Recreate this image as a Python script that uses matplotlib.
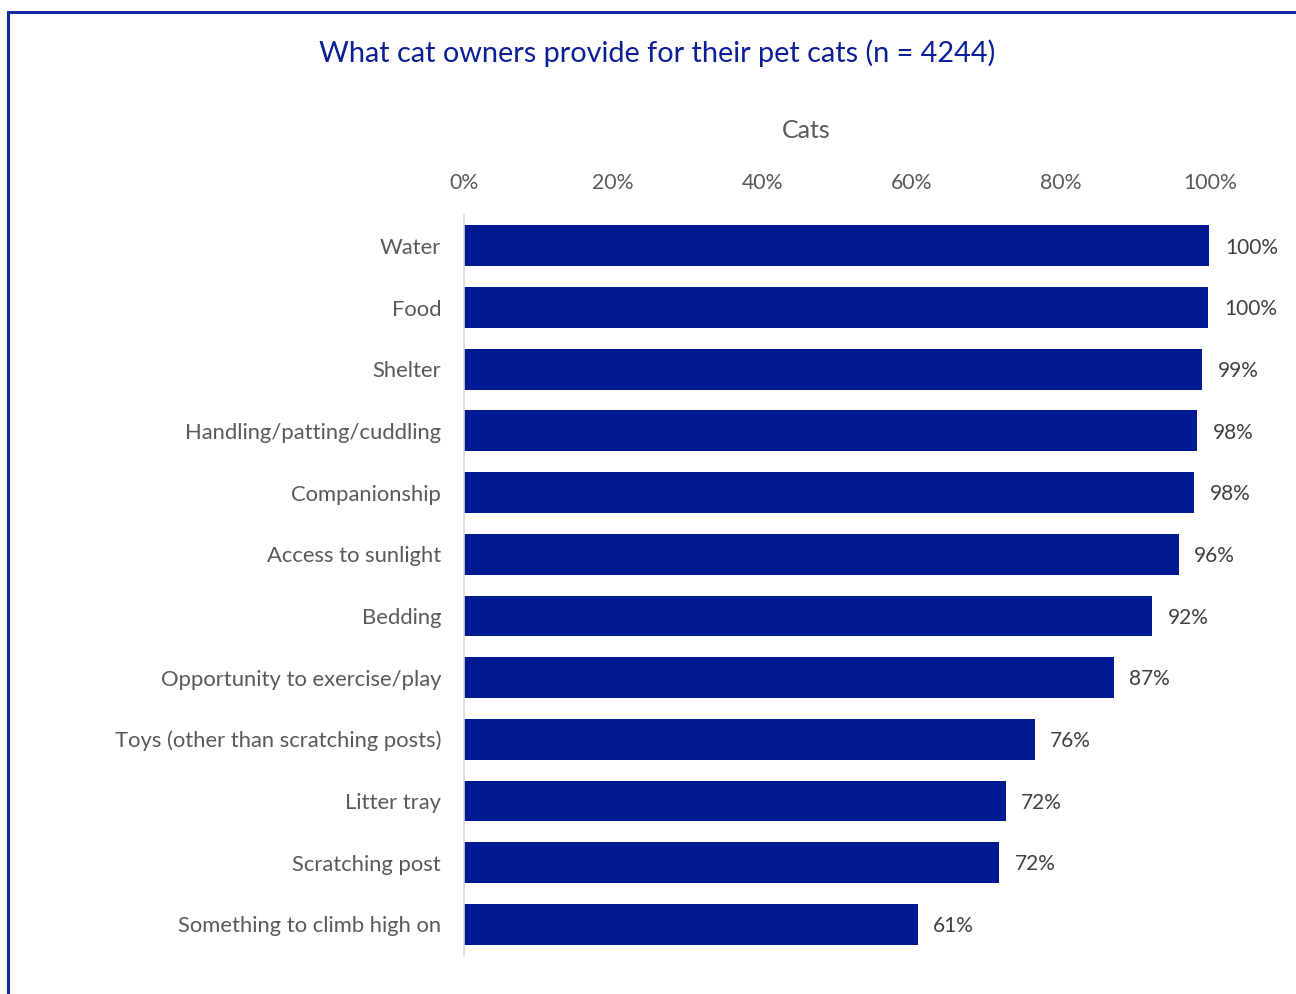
import matplotlib.pyplot as plt
import matplotlib.patches as patches
from matplotlib.ticker import PercentFormatter

plt.rcParams['font.family'] = ['Lato', 'DejaVu Sans']

# Data (share of cat owners)
categories = ['Water', 'Food', 'Shelter', 'Handling/patting/cuddling', 'Companionship',
              'Access to sunlight', 'Bedding', 'Opportunity to exercise/play',
              'Toys (other than scratching posts)', 'Litter tray', 'Scratching post',
              'Something to climb high on']
values = [0.999, 0.998, 0.990, 0.983, 0.979, 0.958, 0.922, 0.871, 0.765, 0.726, 0.717, 0.608]
labels = ['100%', '100%', '99%', '98%', '98%', '96%', '92%', '87%', '76%', '72%', '72%', '61%']

bar_color = '#001A94'
text_gray = '#595959'

fig = plt.figure(figsize=(12.96, 9.94), dpi=100)
ax = fig.add_axes([0.358, 0.0392, 0.5756, 0.7445])

ypos = list(range(len(categories)))
ax.barh(ypos, values, height=0.66, color=bar_color)
ax.set_ylim(len(categories) - 0.5, -0.5)
ax.set_xlim(0, 1.0)

ax.xaxis.tick_top()
ax.set_xticks([0, 0.2, 0.4, 0.6, 0.8, 1.0])
ax.xaxis.set_major_formatter(PercentFormatter(1.0, decimals=0))
ax.tick_params(axis='x', length=0, pad=16, labelsize=15.3, colors=text_gray)
ax.set_yticks(ypos)
ax.set_yticklabels(categories)
ax.tick_params(axis='y', length=0, pad=16.5, labelsize=15.8, colors=text_gray)

for s in ['top', 'right', 'bottom']:
    ax.spines[s].set_visible(False)
ax.spines['left'].set_color('#d9d9d9')
ax.spines['left'].set_linewidth(1.2)

for y, v, lab in zip(ypos, values, labels):
    ax.text(v + 0.021, y + 0.03, lab, va='center', ha='left', fontsize=15, color='#404040')

fig.text(0.507, 0.946, 'What cat owners provide for their pet cats (n = 4244)',
         ha='center', va='center', fontsize=20.8, color='#0A1E96')
fig.text(0.622, 0.869, 'Cats', ha='center', va='center', fontsize=18, color=text_gray)

# chart frame (cut off on the right and bottom)
fig.patches.append(patches.Rectangle((8 / 1296, -0.05), 1.2, 1 - 12 / 994 + 0.05,
                                     transform=fig.transFigure, fill=False,
                                     edgecolor='#1028A0', linewidth=2.2))

plt.savefig('out.png', dpi=100)
